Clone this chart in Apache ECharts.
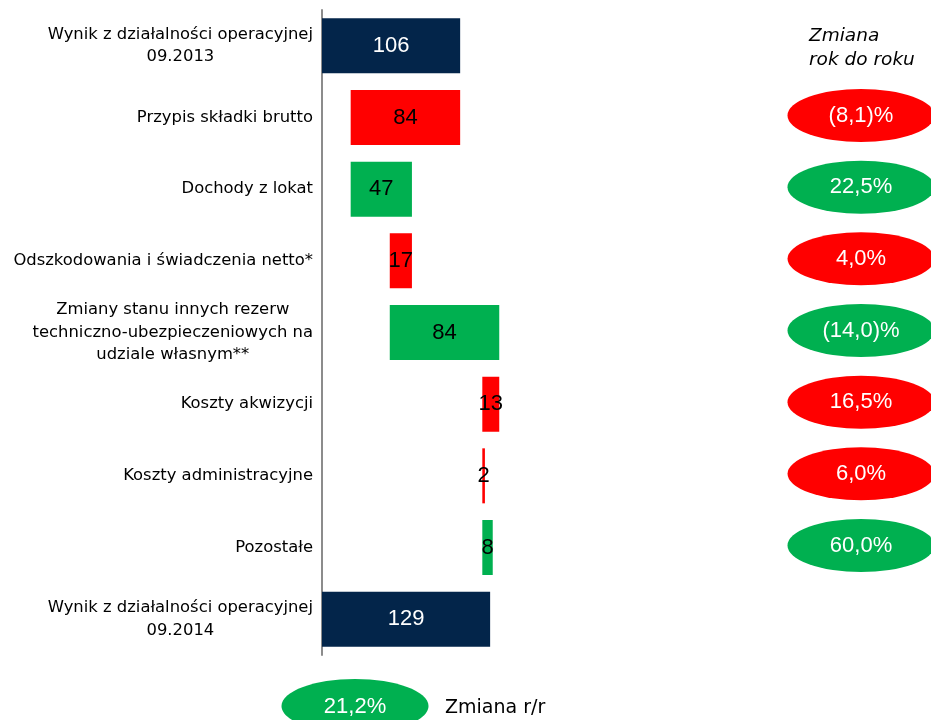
<!DOCTYPE html>
<html>
<head>
<meta charset="utf-8">
<script src="https://cdn.jsdelivr.net/npm/echarts@6/dist/echarts.min.js"></script>
<style>
html,body{margin:0;padding:0;background:#fff;}
#chart{width:931px;height:720px;}
</style>
</head>
<body>
<div id="chart"></div>
<script>
const categories = [
  'Wynik z działalności operacyjnej\n09.2013',
  'Przypis składki brutto',
  'Dochody z lokat',
  'Odszkodowania i świadczenia netto*',
  'Zmiany stanu innych rezerw\ntechniczno-ubezpieczeniowych na\nudziale własnym**',
  'Koszty akwizycji',
  'Koszty administracyjne',
  'Pozostałe',
  'Wynik z działalności operacyjnej\n09.2014'
];
const barValues = [106, 84, 47, 17, 84, 13, 2, 8, 129];
const barBase = [0, 22, 22, 52, 52, 123, 123, 123, 0];
const barKind = ['total', 'down', 'up', 'down', 'up', 'down', 'down', 'up', 'total'];
const yoyChange = [null, '(8,1)%', '22,5%', '4,0%', '(14,0)%', '16,5%', '6,0%', '60,0%', null];
const totalChange = '21,2%';
const headerText = 'Zmiana\nrok do roku';
const footerText = 'Zmiana r/r';

const COLORS = { total: '#03254A', down: '#FF0000', up: '#00B050' };
const LABEL_COLORS = { total: '#FFFFFF', down: '#000000', up: '#000000' };
const TXT = 'DejaVu Sans';
const NUM = 'Liberation Sans';
const ELLIPSE = 'path://M0,1a1,1 0 1,0 2,0a1,1 0 1,0 -2,0z';

const chart = echarts.init(document.getElementById('chart'));

const barData = barValues.map((v, i) => ({
  value: v,
  itemStyle: { color: COLORS[barKind[i]] },
  label: { color: LABEL_COLORS[barKind[i]] }
}));

const yoyData = [];
yoyChange.forEach((t, i) => {
  if (t !== null) {
    yoyData.push({ value: [0.5, i], name: t, itemStyle: { color: COLORS[barKind[i]], opacity: 1 } });
  }
});

chart.setOption({
  animation: false,
  backgroundColor: '#ffffff',
  grid: [
    { left: 322, width: 391, top: 10, height: 645, outerBoundsMode: 'none', containLabel: false },
    { left: 788, width: 146, top: 8, height: 645, outerBoundsMode: 'none', containLabel: false }
  ],
  xAxis: [
    { gridIndex: 0, type: 'value', min: 0, max: 300, show: false },
    { gridIndex: 1, type: 'value', min: 0, max: 1, show: false }
  ],
  yAxis: [
    {
      gridIndex: 0,
      type: 'category',
      data: categories,
      inverse: true,
      axisLine: { show: true, lineStyle: { color: '#8C8C8C', width: 2 } },
      axisTick: { show: false },
      splitLine: { show: false },
      axisLabel: {
        margin: 9,
        color: '#000',
        fontFamily: TXT,
        fontSize: 16.4,
        formatter: v => v.split('\n').map(l => '{c|' + l + '}').join('\n'),
        rich: {
          c: { align: 'center', fontFamily: TXT, fontSize: 16.4, lineHeight: 22.5, color: '#000' }
        }
      }
    },
    {
      gridIndex: 1,
      type: 'category',
      data: categories,
      inverse: true,
      show: false
    }
  ],
  series: [
    {
      type: 'bar',
      stack: 'w',
      xAxisIndex: 0,
      yAxisIndex: 0,
      data: barBase,
      barWidth: 55,
      itemStyle: { color: 'transparent' },
      silent: true
    },
    {
      type: 'bar',
      stack: 'w',
      xAxisIndex: 0,
      yAxisIndex: 0,
      data: barData,
      barWidth: 55,
      label: {
        show: true,
        position: 'inside',
        fontFamily: NUM,
        fontSize: 22
      }
    },
    {
      type: 'scatter',
      xAxisIndex: 1,
      yAxisIndex: 1,
      data: yoyData,
      symbol: ELLIPSE,
      symbolSize: [147, 53],
      itemStyle: { opacity: 1 },
      label: {
        show: true,
        position: 'inside',
        formatter: p => p.name,
        color: '#FFFFFF',
        fontFamily: NUM,
        fontSize: 22
      }
    }
  ],
  graphic: [
    {
      type: 'text',
      left: 809,
      top: 24,
      style: {
        text: headerText,
        font: 'italic 18.5px "DejaVu Sans"',
        fill: '#000',
        lineHeight: 24
      }
    },
    {
      type: 'ellipse',
      shape: { cx: 355, cy: 706, rx: 73.5, ry: 27 },
      style: { fill: COLORS.up }
    },
    {
      type: 'text',
      x: 355,
      y: 707,
      style: {
        text: totalChange,
        fill: '#fff',
        font: '22px "Liberation Sans"',
        align: 'center',
        verticalAlign: 'middle'
      }
    },
    {
      type: 'text',
      x: 445,
      y: 708,
      style: {
        text: footerText,
        fill: '#000',
        font: '19px "DejaVu Sans"',
        align: 'left',
        verticalAlign: 'middle'
      }
    }
  ]
});
</script>
</body>
</html>
